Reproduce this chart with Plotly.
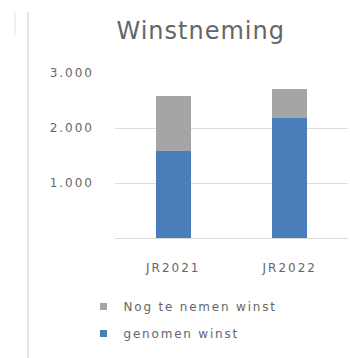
import plotly.graph_objects as go

categories = ["JR2021", "JR2022"]
genomen_winst = [1580, 2180]
nog_te_nemen = [1000, 530]
y_ticks = [1000, 2000, 3000]
y_tick_labels = ["1.000", "2.000", "3.000"]

series_names = ["genomen winst", "Nog te nemen winst"]
series_colors = ["#4A7EBB", "#A5A5A5"]

W, H = 350, 358
ml, mr, mt, mb = 115, 2, 73, 120
plot_w = W - ml - mr
plot_h = H - mt - mb

font_family = "'DejaVu Sans', Verdana, sans-serif"
text_grey = "#666666"


def px_x(px):
    return (px - ml) / plot_w


def px_y(py):
    return (H - mb - py) / plot_h


fig = go.Figure()
for name, values, color in zip(series_names, [genomen_winst, nog_te_nemen], series_colors):
    fig.add_trace(go.Bar(
        x=categories, y=values, name=name, showlegend=False,
        marker=dict(color=color, line=dict(width=0)), width=0.3,
    ))

# small square legend keys, top entry first
for rank, (name, color) in enumerate(zip(reversed(series_names), reversed(series_colors))):
    fig.add_trace(go.Scatter(
        x=[None], y=[None], mode="markers", name=name,
        legendgroup=name, legendrank=rank + 1,
        marker=dict(symbol="square", size=7, color=color),
    ))

fig.update_layout(
    barmode="stack",
    width=W, height=H,
    margin=dict(l=ml, r=mr, t=mt, b=mb),
    paper_bgcolor="white", plot_bgcolor="white",
    font=dict(family=font_family, color=text_grey),
    showlegend=True,
    legend=dict(
        orientation="v",
        x=px_x(83.5), y=px_y(292), xanchor="left", yanchor="top",
        font=dict(size=12, color=text_grey),
        itemwidth=30,
        tracegroupgap=8,
        bgcolor="rgba(0,0,0,0)",
    ),
    xaxis=dict(
        type="category", range=[-0.5, 1.5], showgrid=False, zeroline=False,
        showline=True, linecolor="#D9D9D9", linewidth=1,
        ticks="", tickfont=dict(size=12, color=text_grey),
        ticklabelstandoff=19, fixedrange=True,
    ),
    yaxis=dict(
        range=[0, 3000], tickvals=y_ticks, ticktext=y_tick_labels,
        showgrid=True, gridcolor="#DEDEDE", gridwidth=1,
        zeroline=False, showline=False, ticks="",
        tickfont=dict(size=12, color=text_grey),
        ticklabelstandoff=20, fixedrange=True,
    ),
    annotations=[dict(
        text="Winstneming", xref="paper", yref="paper",
        x=px_x(200), y=px_y(31), xanchor="center", yanchor="middle",
        showarrow=False, font=dict(size=24, color="#666666", family=font_family),
    )],
    shapes=[
        dict(
            type="line", xref="paper", yref="paper",
            x0=px_x(28), x1=px_x(28), y0=px_y(12), y1=px_y(358),
            line=dict(color="#DDDDDD", width=1.5),
        ),
        dict(
            type="line", xref="paper", yref="paper",
            x0=px_x(15), x1=px_x(15), y0=px_y(12), y1=px_y(35),
            line=dict(color="#F0F0F0", width=2),
        ),
    ],
)

# widen the letter spacing of the chart texts; the legend box must not clip the wider text
post_script = """
var gd = document.getElementById('{plot_id}');
var st = document.createElement('style');
st.textContent = '.xtick text, .ytick text { letter-spacing: 2px; } ' +
                 '.legendtext { letter-spacing: 1.8px; } ' +
                 '.annotation-text { letter-spacing: 1px; }';
document.head.appendChild(st);
function unclipLegend() {
  gd.querySelectorAll('.legend .scrollbox, .legend').forEach(function (el) {
    el.removeAttribute('clip-path');
    el.style.clipPath = 'none';
  });
}
unclipLegend();
gd.on('plotly_afterplot', unclipLegend);
"""

fig.write_html("out.html", post_script=post_script)
